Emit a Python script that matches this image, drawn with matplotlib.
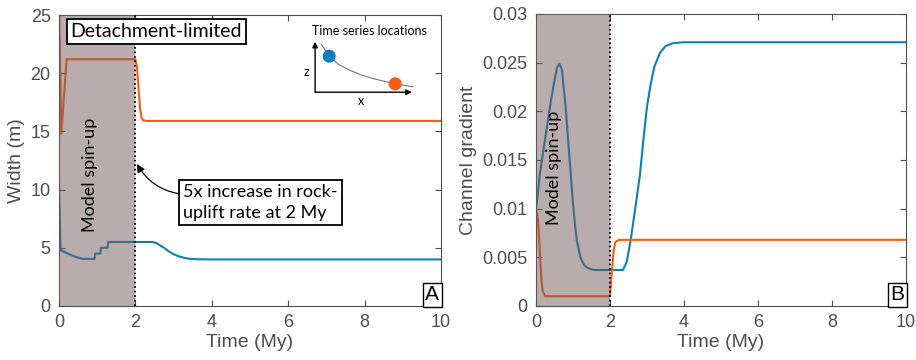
import numpy as np
import matplotlib
matplotlib.use("Agg")
import matplotlib.pyplot as plt

# --- panel A: channel width (m) ---
t_wA_blue = [0, 0.04, 0.1, 0.2, 0.3, 0.4, 0.5, 0.6, 0.93, 0.95, 1.08, 1.1, 1.21, 1.23, 1.27, 1.29,
             2.45, 2.55, 2.65, 2.75, 2.85, 3.0, 3.15, 3.3, 3.45, 3.6, 4.0, 10]
w_blue = [10.5, 4.8, 4.7, 4.55, 4.4, 4.27, 4.15, 4.05, 4.05, 4.5, 4.5, 5.0, 5.0, 5.0, 5.0, 5.5,
          5.5, 5.4, 5.2, 5.0, 4.75, 4.45, 4.25, 4.12, 4.05, 4.02, 4.0, 4.0]
t_wA_orange = [0, 0.06, 0.2, 2.0, 2.04, 2.08, 2.12, 2.16, 2.2, 2.3, 10]
w_orange = [26.0, 14.8, 21.2, 21.2, 20.6, 18.8, 17.0, 16.2, 15.95, 15.9, 15.9]

# --- panel B: channel gradient ---
t_gB_blue = [0, 0.05, 0.1, 0.2, 0.3, 0.4, 0.5, 0.57, 0.63, 0.7, 0.8, 0.9, 1.0, 1.05, 1.1, 1.2,
             1.3, 1.4, 1.55, 2.35, 2.45, 2.56, 2.7, 2.81, 2.9, 3.0, 3.1, 3.2, 3.35, 3.5, 3.7,
             4.0, 10]
g_blue = [0.0100, 0.0115, 0.0135, 0.0160, 0.0185, 0.0210, 0.0232, 0.0245, 0.0249, 0.0243,
          0.0205, 0.0155, 0.0105, 0.0085, 0.0068, 0.0050, 0.0042, 0.0039, 0.0037, 0.0037,
          0.0045, 0.0068, 0.0105, 0.0135, 0.0170, 0.0205, 0.0228, 0.0246, 0.0260, 0.0267,
          0.0270, 0.0271, 0.0271]
t_gB_orange = [0, 0.05, 0.1, 0.14, 0.18, 0.25, 2.0, 2.05, 2.1, 2.15, 2.25, 10]
g_orange = [0.0100, 0.0090, 0.0060, 0.0030, 0.0015, 0.0010, 0.0010, 0.0035, 0.0058, 0.0066,
            0.0068, 0.0068]

# inset sketch of the profile
inset_x = [0.09, 0.16, 0.25, 0.36, 0.47, 0.58, 0.70, 0.80, 0.90, 0.97]
inset_z = [0.93, 0.74, 0.60, 0.50, 0.42, 0.36, 0.31, 0.27, 0.24, 0.22]
dot_x = [0.165, 0.80]
dot_z = [0.73, 0.27]

BLUE = "#0a7fc2"
ORANGE = "#fa5a14"
GREY = "#4d4d4d"
SHADE = "#735a5a"
TICK_FONT = "Liberation Sans"
NOTE_FONT = ["Lato", "DejaVu Sans"]

fig = plt.figure(figsize=(9.16, 3.6), dpi=100)
W, H = 916, 360
axA = fig.add_axes([59 / W, 1 - 306 / H, 382 / W, 291 / H])
axB = fig.add_axes([536 / W, 1 - 306 / H, 370 / W, 292 / H])


def style(ax, ylim, yticks, ylabel, letter):
    ax.set_xlim(0, 10)
    ax.set_ylim(*ylim)
    ax.set_xticks(range(0, 11, 2))
    ax.set_yticks(yticks)
    ax.tick_params(direction="in", top=True, right=True, length=4, width=0.8,
                   colors=GREY, labelsize=13, pad=6)
    for lab in ax.get_xticklabels() + ax.get_yticklabels():
        lab.set_family(TICK_FONT)
        lab.set_color(GREY)
    for s in ax.spines.values():
        s.set_color(GREY)
        s.set_linewidth(0.8)
    ax.set_xlabel("Time (My)", fontsize=14, color=GREY, family=TICK_FONT, labelpad=2)
    ax.set_ylabel(ylabel, fontsize=14, color=GREY, family=TICK_FONT, labelpad=4)
    ax.axvspan(0, 2, color=SHADE, alpha=0.5, lw=0, zorder=3)
    ax.axvline(2, color="k", ls=(0, (1, 1.5)), lw=1.3, zorder=4)
    ax.text(0.995, 0.006, letter, transform=ax.transAxes, ha="right", va="bottom",
            fontsize=15, family=TICK_FONT, zorder=6,
            bbox=dict(boxstyle="square,pad=0.12", fc="white", ec="k", lw=1))


axA.plot(t_wA_blue, w_blue, color=BLUE, lw=1.5, zorder=2)
axA.plot(t_wA_orange, w_orange, color=ORANGE, lw=1.5, zorder=2)
style(axA, (0, 25), [0, 5, 10, 15, 20, 25], "Width (m)", "A")
axB.plot(t_gB_blue, g_blue, color=BLUE, lw=1.5, zorder=2)
axB.plot(t_gB_orange, g_orange, color=ORANGE, lw=1.5, zorder=2)
style(axB, (0, 0.03), [0, 0.005, 0.01, 0.015, 0.02, 0.025, 0.03], "Channel gradient", "B")
axB.set_yticklabels(["0", "0.005", "0.01", "0.015", "0.02", "0.025", "0.03"],
                    family=TICK_FONT, color=GREY)

axA.text(0.8, 11.3, "Model spin-up", rotation=90, ha="center", va="center", fontsize=13,
         family=NOTE_FONT, zorder=5)
axB.text(0.5, 0.0142, "Model spin-up", rotation=90, ha="center", va="center", fontsize=13,
         family=NOTE_FONT, zorder=5)

axA.text(0.3, 23.6, "Detachment-limited", ha="left", va="center", fontsize=14,
         family=NOTE_FONT, zorder=6,
         bbox=dict(boxstyle="square,pad=0.2", fc="white", ec="k", lw=1.3))

axA.annotate("5x increase in rock-\nuplift rate at 2 My", xy=(2.04, 12.2), xytext=(3.25, 8.9),
             ha="left", va="center", fontsize=13, family=NOTE_FONT, linespacing=1.35,
             zorder=6,
             bbox=dict(boxstyle="square,pad=0.22", fc="white", ec="k", lw=1.3),
             arrowprops=dict(arrowstyle="-|>", color="k", lw=0.9, shrinkA=0, shrinkB=0,
                             mutation_scale=12, relpos=(0, 0.72),
                             connectionstyle="arc3,rad=-0.25"))

# inset: time series locations
ins = fig.add_axes([312 / W, 1 - 100 / H, 104 / W, 60 / H])
ins.set_xlim(0, 1)
ins.set_ylim(0, 1)
ins.axis("off")
ins.annotate("", xy=(0.03, 0.97), xytext=(0.03, 0.13),
             arrowprops=dict(arrowstyle="-|>", color="k", lw=1, mutation_scale=8,
                             shrinkA=0, shrinkB=0))
ins.annotate("", xy=(0.96, 0.13), xytext=(0.03, 0.13),
             arrowprops=dict(arrowstyle="-|>", color="k", lw=1, mutation_scale=8,
                             shrinkA=0, shrinkB=0))
ins.plot(inset_x, inset_z, color="#777777", lw=0.8)
ins.scatter(dot_x, dot_z, s=70, c=[BLUE, ORANGE], zorder=3)
ins.text(-0.03, 0.47, "z", ha="right", va="center", fontsize=9, family=NOTE_FONT)
ins.text(0.47, 0.08, "x", ha="center", va="top", fontsize=9, family=NOTE_FONT)
ins.text(0.55, 1.05, "Time series locations", ha="center", va="bottom", fontsize=9,
         family=NOTE_FONT)

fig.savefig("out.png", dpi=100)
